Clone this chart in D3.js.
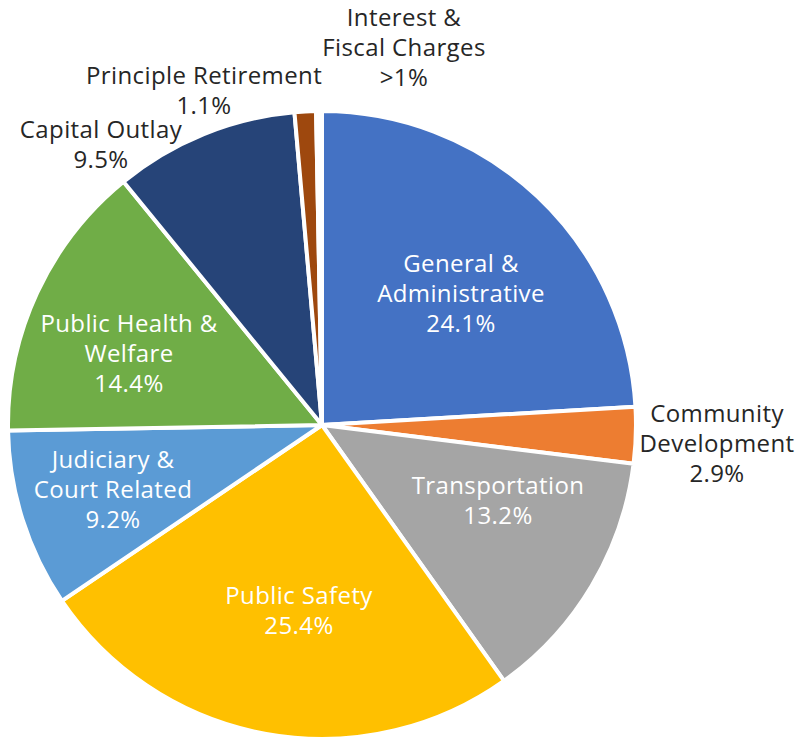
<!DOCTYPE html>
<html>
<head>
<meta charset="utf-8">
<script src="https://cdn.jsdelivr.net/npm/d3@7"></script>
<style>
  html, body { margin: 0; padding: 0; background: #fff; }
  svg text { font-family: "Open Sans", sans-serif; }
</style>
</head>
<body>
<div id="chart"></div>
<script>
// Slice order: clockwise from 12 o'clock
const categories = [
    "General & Administrative",
    "Community Development",
    "Transportation",
    "Public Safety",
    "Judiciary & Court Related",
    "Public Health & Welfare",
    "Capital Outlay",
    "Principle Retirement",
    "Interest & Fiscal Charges"
];
const values = [24.1, 2.9, 13.2, 25.4, 9.2, 14.4, 9.5, 1.1, 0.3];
const valueLabels = ["24.1%", "2.9%", "13.2%", "25.4%", "9.2%", "14.4%", "9.5%", "1.1%", ">1%"];
// how each label is wrapped
const labelLines = [
    ["General &", "Administrative"],
    ["Community", "Development"],
    ["Transportation"],
    ["Public Safety"],
    ["Judiciary &", "Court Related"],
    ["Public Health &", "Welfare"],
    ["Capital Outlay"],
    ["Principle Retirement"],
    ["Interest &", "Fiscal Charges"]
];
const colors = ["#4472C4", "#ED7D31", "#A5A5A5", "#FFC000", "#5B9BD5", "#70AD47", "#264478", "#9E480E", "#FFFFFF"];

// label block centres, relative to pie centre (Excel best-fit placement)
const labelOffsets = [
    [139, -131], [395, 19], [176, 76], [-23, 186], [-209, 65],
    [-193, -71], [-221, -280], [-118, -334], [82, -377]
];
const insideLabel = [true, false, true, true, true, true, false, false, false];

const width = 809, height = 740;
const cx = 322, cy = 425, radius = 314;
const lineH = 30;

const svg = d3.select("#chart")
    .append("svg")
    .attr("width", width)
    .attr("height", height);

const g = svg.append("g").attr("transform", `translate(${cx},${cy})`);

const data = categories.map((c, i) => ({ name: c, value: values[i], i: i }));

const pie = d3.pie()
    .sort(null)
    .value(d => d.value);

const arc = d3.arc()
    .innerRadius(0)
    .outerRadius(radius);

g.selectAll("path.slice")
    .data(pie(data))
    .join("path")
    .attr("class", "slice")
    .attr("d", arc)
    .attr("fill", d => colors[d.data.i])
    .attr("stroke", "#fff")
    .attr("stroke-width", 4)
    .attr("stroke-linejoin", "round");

// labels
data.forEach((d, i) => {
    const lines = labelLines[i].concat([valueLabels[i]]);
    const [ox, oy] = labelOffsets[i];
    const top = oy - (lines.length - 1) * lineH / 2;
    const t = g.append("text")
        .attr("text-anchor", "middle")
        .attr("font-size", "24px")
        .attr("letter-spacing", "0.4px")
        .attr("fill", insideLabel[i] ? "#fff" : "#262626");
    lines.forEach((ln, k) => {
        t.append("tspan")
            .attr("x", ox)
            .attr("y", top + k * lineH)
            .attr("dy", "0.35em")
            .text(ln);
    });
});
</script>
</body>
</html>
